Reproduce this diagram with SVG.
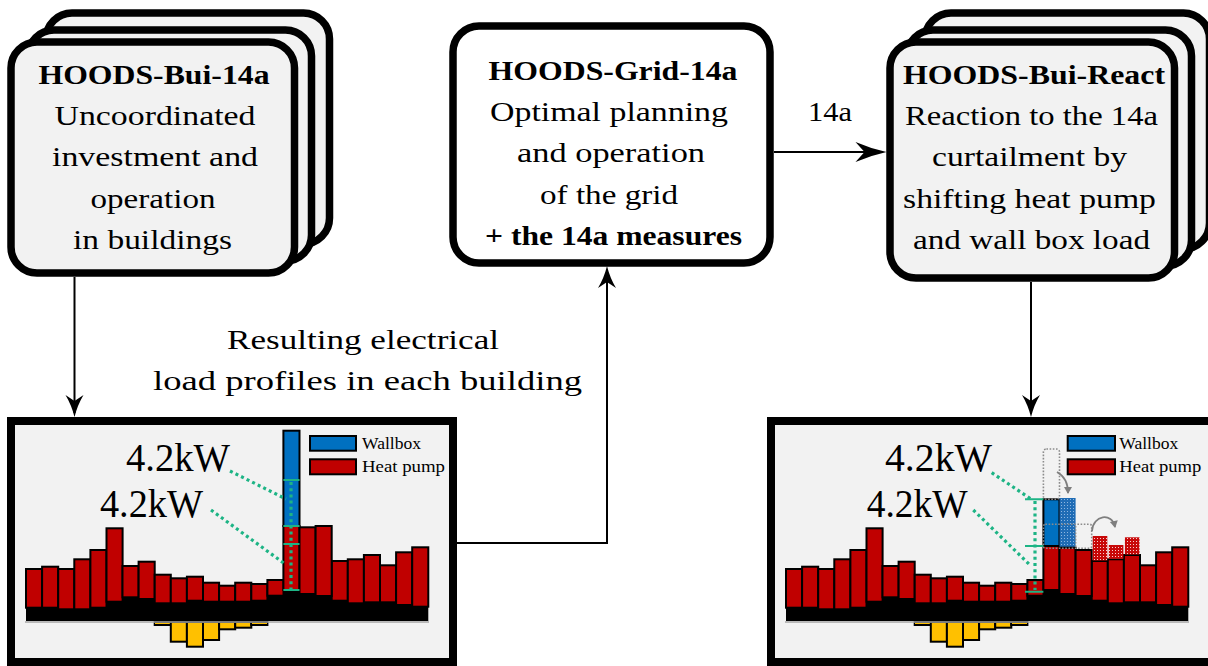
<svg xmlns="http://www.w3.org/2000/svg" width="1208" height="666" viewBox="0 0 1208 666">
  <defs>
    <style>
      .t { font-family: "Liberation Serif", "Times New Roman", serif; font-size: 28px; fill: #000; }
      .b { font-weight: bold; }
      .lg { font-family: "Liberation Serif", "Times New Roman", serif; font-size: 17.5px; fill: #000; }
      .kw { font-family: "Liberation Serif", "Times New Roman", serif; font-size: 39px; fill: #000; }
      .card { fill: #f2f2f2; stroke: #000; stroke-width: 7.5; }
      .card-white { fill: #fff; stroke: #000; stroke-width: 7.5; }
      .frame { fill: #f2f2f2; stroke: #000; stroke-width: 8; }
      .hp { fill: #c00000; stroke: #000; stroke-width: 2; }
      .wb { fill: #0070c0; stroke: #000; stroke-width: 2; }
      .pv { fill: #ffc000; stroke: #000; stroke-width: 2; }
      .base { fill: #000; }
      .axis { stroke: #a6a6a6; stroke-width: 1.5; fill: none; }
      .conn { fill: none; stroke: #000; stroke-width: 2; }
      .gdot { fill: none; stroke: #1db485; stroke-width: 3.2; stroke-dasharray: 3 3.2; }
      .gtick { fill: none; stroke: #1db485; stroke-width: 2; }
      .ghost { fill: none; stroke: #8c8c8c; stroke-width: 1.6; stroke-dasharray: 1.6 1.6; }
      .garc { fill: none; stroke: #7f7f7f; stroke-width: 1.8; }
    </style>
    <marker id="arrow" viewBox="-23 -10 24 20" refX="-4" refY="0" markerWidth="24" markerHeight="20" markerUnits="userSpaceOnUse" orient="auto">
      <path d="M0,0 Q-12,-3 -22,-9 L-16,0 L-22,9 Q-12,3 0,0 Z" fill="#000"/>
    </marker>
    <marker id="arrow-lg" viewBox="-32 -11 33 22" refX="-4" refY="0" markerWidth="33" markerHeight="22" markerUnits="userSpaceOnUse" orient="auto">
      <path d="M0,0 Q-16,-3.5 -31,-10 L-22,0 L-31,10 Q-16,3.5 0,0 Z" fill="#000"/>
    </marker>
    <marker id="garrow" viewBox="-8 -5 9 10" refX="-1" refY="0" markerWidth="9" markerHeight="10" markerUnits="userSpaceOnUse" orient="auto">
      <path d="M0,0 L-7,-4 L-7,4 Z" fill="#7f7f7f"/>
    </marker>
    <pattern id="dots-blue" width="3" height="3" patternUnits="userSpaceOnUse">
      <rect width="3" height="3" fill="#1f6cb5"/>
      <rect x="1" y="1" width="1" height="1" fill="#8db6e0"/>
    </pattern>
    <pattern id="dots-red" width="3" height="3" patternUnits="userSpaceOnUse">
      <rect width="3" height="3" fill="#c80808"/>
      <rect x="1" y="1" width="1" height="1" fill="#f4d0d0"/>
    </pattern>

    <!-- hourly load profile shared by both charts (base load, heat pump hours, PV feed-in) -->
    <g id="profile">
      <path class="base" d="M26,621 V607.7 H58.2 V609.3 H90.4 V607.7 H106.5 V601.7 H122.5 V597.3 H138.6 V599 H154.7 V603.3 H186.9 V600.7 H203 V601.7 H251.3 V600.7 H267.4 V595.7 H283.4 V590 H299.5 V594 H315.6 V596 H331.7 V600.7 H347.8 V603.3 H363.9 V602.3 H396.1 V605 H412.2 V606.7 H428.3 V621 Z"/>
      <rect class="hp" x="26" y="569" width="16.1" height="38.7"/>
      <rect class="hp" x="42.1" y="566.7" width="16.1" height="41"/>
      <rect class="hp" x="58.2" y="569" width="16.1" height="40.3"/>
      <rect class="hp" x="74.3" y="559.3" width="16.1" height="50"/>
      <rect class="hp" x="90.4" y="550" width="16.1" height="57.7"/>
      <rect class="hp" x="106.5" y="528.3" width="16.1" height="73.4"/>
      <rect class="hp" x="122.5" y="566" width="16.1" height="31.3"/>
      <rect class="hp" x="138.6" y="561.7" width="16.1" height="37.3"/>
      <rect class="hp" x="154.7" y="574.7" width="16.1" height="28.6"/>
      <rect class="hp" x="170.8" y="578.3" width="16.1" height="25"/>
      <rect class="hp" x="186.9" y="576.7" width="16.1" height="24"/>
      <rect class="hp" x="203" y="582.7" width="16.1" height="19"/>
      <rect class="hp" x="219.1" y="585.7" width="16.1" height="16"/>
      <rect class="hp" x="235.2" y="582.7" width="16.1" height="19"/>
      <rect class="hp" x="251.3" y="584" width="16.1" height="16.7"/>
      <rect class="hp" x="267.4" y="580" width="16.1" height="15.7"/>
      <rect class="hp" x="331.7" y="561" width="16.1" height="39.7"/>
      <rect class="hp" x="347.8" y="559.3" width="16.1" height="44"/>
      <rect class="hp" x="363.9" y="555" width="16.1" height="47.3"/>
      <rect class="hp" x="380" y="565.3" width="16.1" height="37"/>
      <rect class="hp" x="396.1" y="552.3" width="16.1" height="52.7"/>
      <rect class="hp" x="412.2" y="547.3" width="16.1" height="59.4"/>
      <rect class="pv" x="154.7" y="622" width="16.1" height="3"/>
      <rect class="pv" x="170.8" y="622" width="16.1" height="19.7"/>
      <rect class="pv" x="186.9" y="622" width="16.1" height="24.7"/>
      <rect class="pv" x="203" y="622" width="16.1" height="18"/>
      <rect class="pv" x="219.1" y="622" width="16.1" height="7.3"/>
      <rect class="pv" x="235.2" y="622" width="16.1" height="5.7"/>
      <rect class="pv" x="251.3" y="622" width="16.1" height="3"/>
      <path class="axis" d="M25,622 H429"/>
    </g>
  </defs>

  <!-- connectors -->
  <g id="connectors">
    <path class="conn" d="M74.5,277 V413" marker-end="url(#arrow)"/>
    <path class="conn" d="M1031,282 V413" marker-end="url(#arrow)"/>
    <path class="conn" d="M457,543 H607 V270" marker-end="url(#arrow)"/>
    <path class="conn" d="M774,152 H882.5" marker-end="url(#arrow-lg)"/>
    <text class="t" x="830" y="121" text-anchor="middle" textLength="44" lengthAdjust="spacingAndGlyphs">14a</text>
    <text class="t" x="363" y="349" text-anchor="middle" textLength="272" lengthAdjust="spacingAndGlyphs">Resulting electrical</text>
    <text class="t" x="367.5" y="390" text-anchor="middle" textLength="429" lengthAdjust="spacingAndGlyphs">load profiles in each building</text>
  </g>

  <!-- building model, uncoordinated -->
  <g id="node-bui-14a">
    <rect class="card" x="46" y="13" width="283.5" height="231" rx="26"/>
    <rect class="card" x="28" y="30" width="283.5" height="231" rx="26"/>
    <rect class="card" x="11" y="42" width="283.5" height="231" rx="26"/>
    <text class="t b" x="154" y="84" text-anchor="middle" textLength="231" lengthAdjust="spacingAndGlyphs">HOODS-Bui-14a</text>
    <text class="t" x="155" y="125" text-anchor="middle" textLength="201" lengthAdjust="spacingAndGlyphs">Uncoordinated</text>
    <text class="t" x="155" y="166" text-anchor="middle" textLength="206" lengthAdjust="spacingAndGlyphs">investment and</text>
    <text class="t" x="153" y="208" text-anchor="middle" textLength="125" lengthAdjust="spacingAndGlyphs">operation</text>
    <text class="t" x="152.5" y="249" text-anchor="middle" textLength="159" lengthAdjust="spacingAndGlyphs">in buildings</text>
  </g>

  <!-- grid model -->
  <g id="node-grid-14a">
    <rect class="card-white" x="453" y="26" width="317" height="237" rx="26"/>
    <text class="t b" x="613" y="80" text-anchor="middle" textLength="249" lengthAdjust="spacingAndGlyphs">HOODS-Grid-14a</text>
    <text class="t" x="609" y="121" text-anchor="middle" textLength="238" lengthAdjust="spacingAndGlyphs">Optimal planning</text>
    <text class="t" x="611" y="162" text-anchor="middle" textLength="188" lengthAdjust="spacingAndGlyphs">and operation</text>
    <text class="t" x="609" y="204" text-anchor="middle" textLength="138" lengthAdjust="spacingAndGlyphs">of the grid</text>
    <text class="t b" x="613.5" y="245" text-anchor="middle" textLength="257" lengthAdjust="spacingAndGlyphs">+ the 14a measures</text>
  </g>

  <!-- building model, reaction -->
  <g id="node-bui-react">
    <rect class="card" x="925" y="13" width="284.5" height="236" rx="26"/>
    <rect class="card" x="907" y="30" width="284.5" height="236" rx="26"/>
    <rect class="card" x="890" y="42" width="284.5" height="236" rx="26"/>
    <text class="t b" x="1034" y="84" text-anchor="middle" textLength="262" lengthAdjust="spacingAndGlyphs">HOODS-Bui-React</text>
    <text class="t" x="1031.5" y="125" text-anchor="middle" textLength="253" lengthAdjust="spacingAndGlyphs">Reaction to the 14a</text>
    <text class="t" x="1029.5" y="166" text-anchor="middle" textLength="195" lengthAdjust="spacingAndGlyphs">curtailment by</text>
    <text class="t" x="1029.5" y="208" text-anchor="middle" textLength="253" lengthAdjust="spacingAndGlyphs">shifting heat pump</text>
    <text class="t" x="1031.5" y="249" text-anchor="middle" textLength="237" lengthAdjust="spacingAndGlyphs">and wall box load</text>
  </g>

  <!-- load profile before curtailment -->
  <g id="chart-before">
    <rect class="frame" x="11" y="421" width="442" height="241"/>
    <use href="#profile"/>
    <rect class="wb" x="283.4" y="430.7" width="16.1" height="95.3"/>
    <rect class="hp" x="283.4" y="526" width="16.1" height="64"/>
    <rect class="hp" x="299.5" y="527.3" width="16.1" height="66.7"/>
    <rect class="hp" x="315.6" y="526" width="16.1" height="70"/>
    <path class="gtick" d="M283.4,480 H299.5 M283.4,526 H299.5 M283.4,544 H299.5 M283.4,590 H299.5"/>
    <path class="gdot" d="M291,482 V589"/>
    <path class="gdot" d="M230,471 L286,499"/>
    <path class="gdot" d="M211,510 L285,564"/>
    <text class="kw" x="126" y="471" textLength="104" lengthAdjust="spacingAndGlyphs">4.2kW</text>
    <text class="kw" x="100" y="517" textLength="103" lengthAdjust="spacingAndGlyphs">4.2kW</text>
    <rect class="wb" x="310" y="436" width="46" height="14.7"/>
    <rect class="hp" x="310" y="459.3" width="46" height="15"/>
    <text class="lg" x="362" y="449" textLength="59" lengthAdjust="spacingAndGlyphs">Wallbox</text>
    <text class="lg" x="362" y="471.5" textLength="83" lengthAdjust="spacingAndGlyphs">Heat pump</text>
  </g>

  <!-- load profile after curtailment and load shifting -->
  <g id="chart-after" transform="translate(760,0)">
    <rect class="frame" x="11" y="421" width="442" height="241"/>
    <use href="#profile"/>
    <rect class="wb" x="283.4" y="499.3" width="16.1" height="46.7"/>
    <rect class="hp" x="283.4" y="546" width="16.1" height="44"/>
    <rect x="299.5" y="498" width="16.1" height="49.7" fill="url(#dots-blue)"/>
    <rect class="hp" x="299.5" y="547.7" width="16.1" height="46.3"/>
    <rect class="hp" x="315.6" y="550" width="16.1" height="46"/>
    <rect x="332.7" y="536" width="14.6" height="24.5" fill="url(#dots-red)"/>
    <rect x="348.8" y="545" width="14.6" height="13.8" fill="url(#dots-red)"/>
    <rect x="364.9" y="537.3" width="14.6" height="17.2" fill="url(#dots-red)"/>
    <rect class="ghost" x="283.4" y="449" width="16.1" height="50.3" rx="3"/>
    <rect class="ghost" x="283.4" y="524.3" width="48.3" height="24" rx="2"/>
    <path class="ghost" d="M315.6,526 V548"/>
    <path class="garc" d="M297,472 Q308,478 308,493" marker-end="url(#garrow)"/>
    <path class="garc" d="M332,531 C333,515 352,512 355,527" marker-end="url(#garrow)"/>
    <path class="gtick" d="M265,499.3 H283.4 M265,546 H283.4 M265,591.7 H283.4"/>
    <path class="gdot" d="M275,501 V590"/>
    <path class="gdot" d="M231.7,472.7 L271,499"/>
    <path class="gdot" d="M213.3,510 L271,566"/>
    <text class="kw" x="125" y="471" textLength="107" lengthAdjust="spacingAndGlyphs">4.2kW</text>
    <text class="kw" x="106.7" y="517" textLength="101" lengthAdjust="spacingAndGlyphs">4.2kW</text>
    <rect class="wb" x="307.7" y="436" width="47.3" height="14.7"/>
    <rect class="hp" x="307.7" y="459.3" width="47.3" height="15"/>
    <text class="lg" x="359.3" y="449" textLength="59" lengthAdjust="spacingAndGlyphs">Wallbox</text>
    <text class="lg" x="359.3" y="471.5" textLength="82" lengthAdjust="spacingAndGlyphs">Heat pump</text>
  </g>
</svg>
